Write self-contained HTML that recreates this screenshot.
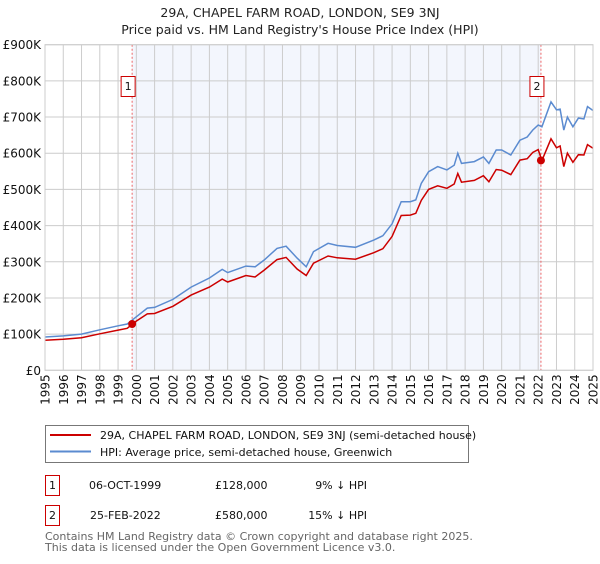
<!DOCTYPE html>
<html><head><meta charset="utf-8"><style>
body{margin:0;background:#fff;font-family:"DejaVu Sans","Liberation Sans",sans-serif;}
svg text{font-family:"DejaVu Sans","Liberation Sans",sans-serif;}
</style></head><body>
<svg id="chart" width="600" height="560" xmlns="http://www.w3.org/2000/svg">
<text x="300" y="17" text-anchor="middle" font-size="12.5" fill="#222">29A, CHAPEL FARM ROAD, LONDON, SE9 3NJ</text>
<text x="300" y="34" text-anchor="middle" font-size="12.5" fill="#222">Price paid vs. HM Land Registry's House Price Index (HPI)</text>
<g id="plot"></g>
<g>
<rect x="45.5" y="425.5" width="423" height="37" fill="#fff" stroke="#777"/>
<line x1="50" y1="435" x2="91" y2="435" stroke="#cc0000" stroke-width="2"/>
<text x="100" y="439" font-size="11" fill="#111">29A, CHAPEL FARM ROAD, LONDON, SE9 3NJ (semi-detached house)</text>
<line x1="50" y1="451.5" x2="91" y2="451.5" stroke="#5b8bd0" stroke-width="2"/>
<text x="100" y="456" font-size="11" fill="#111">HPI: Average price, semi-detached house, Greenwich</text>
</g>
<g font-size="11" fill="#111">
<rect x="45.5" y="475.5" width="14" height="20" fill="#fff" stroke="#cc0000"/>
<text x="52.5" y="489" text-anchor="middle">1</text>
<text x="89" y="489">06-OCT-1999</text>
<text x="215" y="489">£128,000</text>
<text x="367" y="489" text-anchor="end">9% ↓ HPI</text>
<rect x="45.5" y="505.5" width="14" height="20" fill="#fff" stroke="#cc0000"/>
<text x="52.5" y="519" text-anchor="middle">2</text>
<text x="90" y="519">25-FEB-2022</text>
<text x="215" y="519">£580,000</text>
<text x="367" y="519" text-anchor="end">15% ↓ HPI</text>
</g>
<text x="45" y="540" font-size="11" fill="#666">Contains HM Land Registry data © Crown copyright and database right 2025.</text>
<text x="45" y="551" font-size="11" fill="#666">This data is licensed under the Open Government Licence v3.0.</text>
</svg>
<script>
const hpiYears=[1995,1996,1997,1998,1999,1999.5,2000,2000.6,2001,2002,2003,2004,2004.7,2005,2006,2006.5,2007,2007.7,2008.2,2008.8,2009.3,2009.7,2010.5,2011,2012,2013,2013.5,2014,2014.5,2015,2015.3,2015.6,2016,2016.5,2017,2017.4,2017.6,2017.8,2018.5,2019,2019.3,2019.7,2020,2020.5,2021,2021.4,2021.7,2022,2022.2,2022.7,2023,2023.2,2023.4,2023.6,2023.9,2024.2,2024.5,2024.7,2025];
const hpiValues=[92,95,100,112,123,128,148,172,174,196,230,255,279,270,288,286,305,337,343,310,286,328,351,345,340,360,372,405,466,466,471,517,549,563,554,567,600,572,577,590,572,609,609,595,636,645,664,678,673,742,720,722,664,700,673,697,695,729,718];
const priceYears=hpiYears;
const priceValues=[83,86,90,101,111,116,136,156,157,177,208,230,252,244,262,258,277,306,312,280,262,296,316,311,307,325,336,370,428,429,434,470,500,510,503,515,544,520,525,538,521,555,553,541,581,585,602,610,580,640,615,620,563,600,575,596,595,624,614];
const sales=[{year:1999.77,value:128,label:"1"},{year:2022.15,value:580,label:"2"}];
const yTicks=[0,100,200,300,400,500,600,700,800,900];
const yTickLabels=["£0","£100K","£200K","£300K","£400K","£500K","£600K","£700K","£800K","£900K"];
const xTicks=[1995,1996,1997,1998,1999,2000,2001,2002,2003,2004,2005,2006,2007,2008,2009,2010,2011,2012,2013,2014,2015,2016,2017,2018,2019,2020,2021,2022,2023,2024,2025];

const L=45,R=593,T=44.7,B=370.3;
const X=y=>L+(y-1995)/30*(R-L);
const Y=v=>B-v/900*(B-T);
const NS="http://www.w3.org/2000/svg";
const g=document.getElementById('plot');
function mk(t,a){const e=document.createElementNS(NS,t);for(const k in a)e.setAttribute(k,a[k]);g.appendChild(e);return e;}
let e=mk('rect',{x:L,y:T,width:R-L,height:B-T,fill:'#fff'});


e=mk('rect',{x:X(sales[0].year),y:T,width:X(sales[1].year)-X(sales[0].year),height:B-T,fill:'#f3f6fd'});


yTicks.forEach((v,i)=>{
 e=mk('line',{x1:L,x2:R,y1:Y(v),y2:Y(v),stroke:'#ccc','stroke-width':1});
 
 
 e=mk('text',{x:L-4,y:Y(v)+4.5,'text-anchor':'end','font-size':12,fill:'#111'});
 e.textContent=yTickLabels[i];
 
 
});
xTicks.forEach(yr=>{
 e=mk('line',{x1:X(yr),x2:X(yr),y1:T,y2:B,stroke:'#ccc','stroke-width':1});
 
 
 const x=X(yr)+4.5,y=B+4;
 e=mk('text',{x:x,y:y,'text-anchor':'end','font-size':12,fill:'#111',transform:`rotate(-90 ${x} ${y})`});
 e.textContent=String(yr);
 
 
});
sales.forEach(s=>{
 e=mk('line',{x1:X(s.year),x2:X(s.year),y1:T,y2:B,stroke:'#e66','stroke-width':1,'stroke-dasharray':'2,2'});
 
 
});
function path(xs,vs){return xs.map((x,i)=>(i?'L':'M')+X(x).toFixed(1)+','+Y(vs[i]).toFixed(1)).join('');}
e=mk('path',{d:path(hpiYears,hpiValues),fill:'none',stroke:'#5b8bd0','stroke-width':1.5});


e=mk('path',{d:path(priceYears,priceValues),fill:'none',stroke:'#cc0000','stroke-width':1.5});


sales.forEach(s=>{
 e=mk('circle',{cx:X(s.year),cy:Y(s.value),r:4,fill:'#cc0000'});
 
 
 const bx=X(s.year)-11;
 e=mk('rect',{x:bx,y:76.5,width:14,height:20,fill:'#fff',stroke:'#cc0000'});
 
 
 e=mk('text',{x:bx+7,y:90,'text-anchor':'middle','font-size':11,fill:'#111'});
 e.textContent=s.label;
 
 
});
e=mk('rect',{x:L,y:T,width:R-L,height:B-T,fill:'none',stroke:'#ccc'});


</script>
</body></html>
